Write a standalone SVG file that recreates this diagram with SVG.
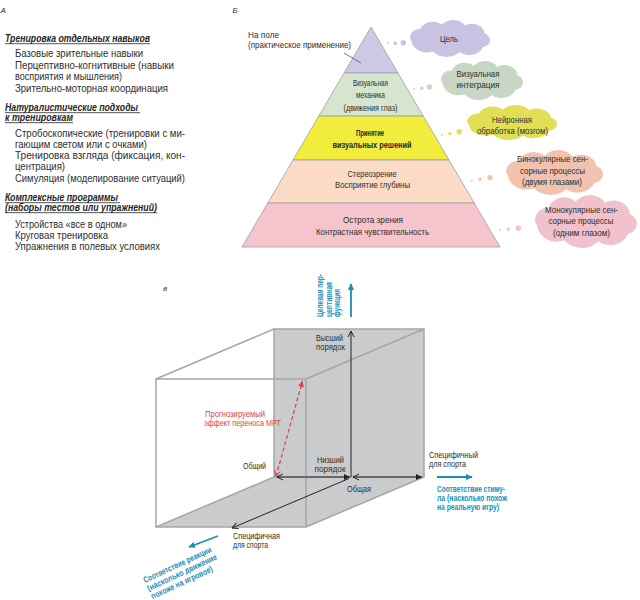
<svg xmlns="http://www.w3.org/2000/svg" width="640" height="600" viewBox="0 0 640 600">
<defs>
<style>
text{font-family:"Liberation Sans",Arial,sans-serif;fill:#2e2e2e}
.a{font-size:10px}
.h{font-size:10px;font-weight:bold;font-style:italic;fill:#262626}
.ul{stroke:#262626;stroke-width:0.8}
.lab{font-size:8px;font-style:italic}
.p{font-size:8.5px;text-anchor:middle}
.pb{font-size:8.5px;text-anchor:middle;font-weight:bold;fill:#262626}
.c{font-size:9px;text-anchor:middle}
.s{font-size:8.5px}
.bl{font-size:8.5px;font-weight:bold;fill:#1b8db5}
.rd{font-size:8.5px;fill:#dc3f4e}
.lay{stroke:#a0a0a0;stroke-width:0.8}
.edge{fill:none;stroke:#a6a6a6;stroke-width:1.5}
.ax{fill:none;stroke:#222;stroke-width:1}
.bar{fill:none;stroke:#1b8db5;stroke-width:1.8}
.rdl{fill:none;stroke:#dc3f4e;stroke-width:1.2;stroke-dasharray:4 2.5}
</style>
<path id="cloud" d="M-42 4A11.1 11.1 0 0 1-32-13A14.4 14.4 0 0 1-8-19A15.6 15.6 0 0 1 18-18A14.3 14.3 0 0 1 40-7A10 10 0 0 1 38 12A16.4 16.4 0 0 1 12 19A19.6 19.6 0 0 1-18 18A17.3 17.3 0 0 1-42 4Z"/>
<marker id="mo" viewBox="0 0 7 8" refX="6.5" refY="4" markerWidth="7" markerHeight="8" markerUnits="userSpaceOnUse" orient="auto-start-reverse"><path d="M0.5,1 L6.5,4 L0.5,7" fill="none" stroke="#222" stroke-width="1"/></marker>
<marker id="mf" viewBox="0 0 6 8" refX="6" refY="4" markerWidth="6" markerHeight="8" markerUnits="userSpaceOnUse" orient="auto"><path d="M0,1 L6,4 L0,7Z" fill="#222"/></marker>
<marker id="rf" viewBox="0 0 6 6" refX="6" refY="3" markerWidth="6" markerHeight="6" markerUnits="userSpaceOnUse" orient="auto"><path d="M0,0 L6,3 L0,6Z" fill="#dc3f4e"/></marker>
<marker id="ro" viewBox="0 0 7 8" refX="6.5" refY="4" markerWidth="7" markerHeight="8" markerUnits="userSpaceOnUse" orient="auto-start-reverse"><path d="M0.5,1 L6.5,4 L0.5,7" fill="none" stroke="#dc3f4e" stroke-width="1"/></marker>
<marker id="bf" viewBox="0 0 7 6" refX="6" refY="3" markerWidth="7" markerHeight="6" markerUnits="userSpaceOnUse" orient="auto"><path d="M0,0 L7,3 L0,6Z" fill="#1b8db5"/></marker>
</defs>
<rect width="640" height="600" fill="#fff"/>

<g id="panel-a">
<text class="lab" x="0.5" y="12.5">А</text>
<text class="h" x="5" y="41.5" textLength="145" lengthAdjust="spacingAndGlyphs">Тренировка отдельных навыков</text>
<line class="ul" x1="5" y1="43.7" x2="150" y2="43.7"/>
<text class="a" x="15" y="57" textLength="128" lengthAdjust="spacingAndGlyphs">Базовые зрительные навыки</text>
<text class="a" x="15" y="68.5" textLength="159" lengthAdjust="spacingAndGlyphs">Перцептивно-когнитивные (навыки</text>
<text class="a" x="15" y="80" textLength="107" lengthAdjust="spacingAndGlyphs">восприятия и мышления)</text>
<text class="a" x="15" y="91.5" textLength="153" lengthAdjust="spacingAndGlyphs">Зрительно-моторная координация</text>
<text class="h" x="5" y="110.5" textLength="133" lengthAdjust="spacingAndGlyphs">Натуралистические подходы</text>
<line class="ul" x1="5" y1="112.7" x2="140" y2="112.7"/>
<text class="h" x="5" y="120.5" textLength="68" lengthAdjust="spacingAndGlyphs">к тренировкам</text>
<line class="ul" x1="5" y1="122.7" x2="73" y2="122.7"/>
<text class="a" x="15" y="137" textLength="170" lengthAdjust="spacingAndGlyphs">Стробоскопические (тренировки с ми-</text>
<text class="a" x="15" y="148" textLength="132" lengthAdjust="spacingAndGlyphs">гающим светом или с очками)</text>
<text class="a" x="15" y="159" textLength="170" lengthAdjust="spacingAndGlyphs">Тренировка взгляда (фиксация, кон-</text>
<text class="a" x="15" y="170" textLength="50" lengthAdjust="spacingAndGlyphs">центрация)</text>
<text class="a" x="15" y="181.5" textLength="170" lengthAdjust="spacingAndGlyphs">Симуляция (моделирование ситуаций)</text>
<text class="h" x="5" y="200.5" textLength="113" lengthAdjust="spacingAndGlyphs">Комплексные программы</text>
<line class="ul" x1="5" y1="202.7" x2="120" y2="202.7"/>
<text class="h" x="5" y="210.5" textLength="152" lengthAdjust="spacingAndGlyphs">(наборы тестов или упражнений)</text>
<line class="ul" x1="5" y1="212.7" x2="157" y2="212.7"/>
<text class="a" x="15" y="227.5" textLength="112" lengthAdjust="spacingAndGlyphs">Устройства «все в одном»</text>
<text class="a" x="15" y="238.5" textLength="93" lengthAdjust="spacingAndGlyphs">Круговая тренировка</text>
<text class="a" x="15" y="249.5" textLength="145" lengthAdjust="spacingAndGlyphs">Упражнения в полевых условиях</text>
</g>

<g id="panel-b-label"><text class="lab" x="232.5" y="12.5">Б</text></g>

<g id="layer-1">
<polygon class="lay" points="371,27 398,73 344,73" fill="#cdc8e5"/>
<text class="s" x="248" y="38" textLength="31" lengthAdjust="spacingAndGlyphs">На поле</text>
<text class="s" x="248" y="48" textLength="103" lengthAdjust="spacingAndGlyphs">(практическое применение)</text>
<line x1="344" y1="53" x2="361" y2="63" stroke="#555" stroke-width="0.8"/>
</g>
<g id="layer-2">
<polygon class="lay" points="344,73 398,73 423.2,116 318.8,116" fill="#d6e5cd"/>
<text class="p" x="370.5" y="86" textLength="35" lengthAdjust="spacingAndGlyphs">Визуальная</text>
<text class="p" x="370.5" y="98" textLength="29" lengthAdjust="spacingAndGlyphs">механика</text>
<text class="p" x="370.5" y="110.5" textLength="54" lengthAdjust="spacingAndGlyphs">(движения глаз)</text>
</g>
<g id="layer-3">
<polygon class="lay" points="318.8,116 423.2,116 449,160 293,160" fill="#f2ec3c"/>
<text class="pb" x="370" y="136" textLength="28" lengthAdjust="spacingAndGlyphs">Принятие</text>
<text class="pb" x="372" y="147.5" textLength="79" lengthAdjust="spacingAndGlyphs">визуальных решений</text>
</g>
<g id="layer-4">
<polygon class="lay" points="293,160 449,160 474.2,203 267.8,203" fill="#fbdac6"/>
<text class="p" x="372" y="176.5" textLength="49" lengthAdjust="spacingAndGlyphs">Стереозрение</text>
<text class="p" x="372.5" y="188" textLength="75" lengthAdjust="spacingAndGlyphs">Восприятие глубины</text>
</g>
<g id="layer-5">
<polygon class="lay" points="267.8,203 474.2,203 500,247 242,247" fill="#f5c4cc"/>
<text class="p" x="373" y="223" textLength="60" lengthAdjust="spacingAndGlyphs">Острота зрения</text>
<text class="p" x="372.5" y="235" textLength="113" lengthAdjust="spacingAndGlyphs">Контрастная чувствительность</text>
</g>

<g id="cloud-goal" fill="#c9c3e3">
<circle cx="388.3" cy="43.3" r="1"/><circle cx="395.3" cy="43.2" r="1.7"/><circle cx="403.3" cy="42.7" r="2.7"/>
<use href="#cloud" transform="translate(449,38.5) scale(0.89,0.725)"/>
<text class="c" x="449" y="41.5" textLength="18" lengthAdjust="spacingAndGlyphs">Цель</text>
</g>
<g id="cloud-integration" fill="#c8d7c3">
<circle cx="414" cy="89" r="1"/><circle cx="421.7" cy="88.3" r="1.7"/><circle cx="429.5" cy="87" r="2.7"/>
<use href="#cloud" transform="translate(481,80.5) scale(0.91,0.765)"/>
<text class="c" x="478" y="77" textLength="43" lengthAdjust="spacingAndGlyphs">Визуальная</text>
<text class="c" x="478" y="88" textLength="43" lengthAdjust="spacingAndGlyphs">интеграция</text>
</g>
<g id="cloud-neural" fill="#e1df56">
<circle cx="441.7" cy="135" r="1"/><circle cx="450" cy="133.5" r="1.7"/><circle cx="459.3" cy="131.7" r="2.7"/>
<use href="#cloud" transform="translate(511,122.5) scale(1,0.686)"/>
<text class="c" x="512" y="123" textLength="40" lengthAdjust="spacingAndGlyphs">Нейронная</text>
<text class="c" x="512.5" y="134" textLength="71" lengthAdjust="spacingAndGlyphs">обработка (мозгом)</text>
</g>
<g id="cloud-binocular" fill="#f2c2af">
<circle cx="471.7" cy="180.7" r="1"/><circle cx="480" cy="179.3" r="1.7"/><circle cx="490" cy="177.7" r="2.7"/>
<use href="#cloud" transform="translate(553.3,172.5) scale(1.078,0.88)"/>
<text class="c" x="552.5" y="162" textLength="71" lengthAdjust="spacingAndGlyphs">Бинокулярные сен-</text>
<text class="c" x="552.5" y="173.5" textLength="65" lengthAdjust="spacingAndGlyphs">сорные процессы</text>
<text class="c" x="552" y="185" textLength="60" lengthAdjust="spacingAndGlyphs">(двумя глазами)</text>
</g>
<g id="cloud-monocular" fill="#f1c1cc">
<circle cx="500" cy="230" r="1"/><circle cx="508.3" cy="229.3" r="1.7"/><circle cx="518.3" cy="228.3" r="2.7"/>
<use href="#cloud" transform="translate(584.7,221.5) scale(1.133,1.04)"/>
<text class="c" x="581.5" y="212.5" textLength="73" lengthAdjust="spacingAndGlyphs">Монокулярные сен-</text>
<text class="c" x="581" y="224" textLength="65" lengthAdjust="spacingAndGlyphs">сорные процессы</text>
<text class="c" x="581.5" y="235.5" textLength="57" lengthAdjust="spacingAndGlyphs">(одним глазом)</text>
</g>

<g id="panel-v-label"><text class="lab" x="163" y="290.5">в</text></g>

<g id="box">
<polygon points="156,527 274,477 274,329 424,329 424,477 306,527" fill="#c9cbcd"/>
<path class="edge" d="M156,379H306V527H156Z M274,329H424V477H274Z M156,379L274,329 M306,379L424,329 M306,527L424,477 M156,527L274,477"/>
</g>

<g id="connectors">
<line class="ax" x1="351" y1="477" x2="351" y2="331" marker-end="url(#mo)"/>
<line class="ax" x1="277" y1="477" x2="350" y2="477" marker-start="url(#mo)" marker-end="url(#mf)"/>
<line class="ax" x1="353" y1="477" x2="422" y2="477" marker-start="url(#mo)" marker-end="url(#mf)"/>
<line class="ax" x1="349" y1="478.5" x2="232" y2="528" marker-end="url(#mo)"/>
<line class="rdl" x1="276" y1="476.5" x2="302.5" y2="381" marker-start="url(#ro)" marker-end="url(#rf)"/>
<line class="bar" x1="351" y1="317" x2="351" y2="284" marker-end="url(#bf)"/>
<line class="bar" x1="437" y1="477" x2="472" y2="477" marker-end="url(#bf)"/>
<line class="bar" x1="218" y1="536" x2="189" y2="547" marker-end="url(#bf)"/>
</g>

<g id="labels-3d">
<text class="s" x="316" y="340.5" textLength="27" lengthAdjust="spacingAndGlyphs">Высший</text>
<text class="s" x="316" y="349.5" textLength="29" lengthAdjust="spacingAndGlyphs">порядок</text>
<text class="s" x="330.5" y="462.5" text-anchor="middle" textLength="27" lengthAdjust="spacingAndGlyphs">Низший</text>
<text class="s" x="330" y="471.5" text-anchor="middle" textLength="31" lengthAdjust="spacingAndGlyphs">порядок</text>
<text class="s" x="243" y="469" textLength="23" lengthAdjust="spacingAndGlyphs">Общий</text>
<text class="s" x="359" y="492" text-anchor="middle" textLength="24" lengthAdjust="spacingAndGlyphs">Общая</text>
<text class="s" x="429" y="457.5" textLength="49" lengthAdjust="spacingAndGlyphs">Специфичный</text>
<text class="s" x="429" y="466.5" textLength="37" lengthAdjust="spacingAndGlyphs">для спорта</text>
<text class="s" x="233" y="539" textLength="47" lengthAdjust="spacingAndGlyphs">Специфичная</text>
<text class="s" x="233" y="548" textLength="35" lengthAdjust="spacingAndGlyphs">для спорта</text>
<text class="rd" x="205" y="417" textLength="60" lengthAdjust="spacingAndGlyphs">Прогнозируемый</text>
<text class="rd" x="204" y="426" textLength="77" lengthAdjust="spacingAndGlyphs">эффект переноса МРТ</text>
<text class="bl" x="437" y="491.5" textLength="68" lengthAdjust="spacingAndGlyphs">Соответствие стиму-</text>
<text class="bl" x="437" y="500.5" textLength="70" lengthAdjust="spacingAndGlyphs">ла (насколько похож</text>
<text class="bl" x="437" y="509.5" textLength="62" lengthAdjust="spacingAndGlyphs">на реальную игру)</text>
<text class="bl" transform="translate(323,317) rotate(-90)" textLength="43" lengthAdjust="spacingAndGlyphs">Целевая пер-</text>
<text class="bl" transform="translate(331.5,317) rotate(-90)" textLength="35" lengthAdjust="spacingAndGlyphs">цептивная</text>
<text class="bl" transform="translate(340,317) rotate(-90)" textLength="28" lengthAdjust="spacingAndGlyphs">функция</text>
<g transform="translate(145,583) rotate(-25)">
<text class="bl" x="0" y="0" textLength="74" lengthAdjust="spacingAndGlyphs">Соответствие реакции</text>
<text class="bl" x="0" y="9" textLength="76" lengthAdjust="spacingAndGlyphs">(насколько движение</text>
<text class="bl" x="0" y="18" textLength="67" lengthAdjust="spacingAndGlyphs">похоже на игровое)</text>
</g>
</g>
</svg>
